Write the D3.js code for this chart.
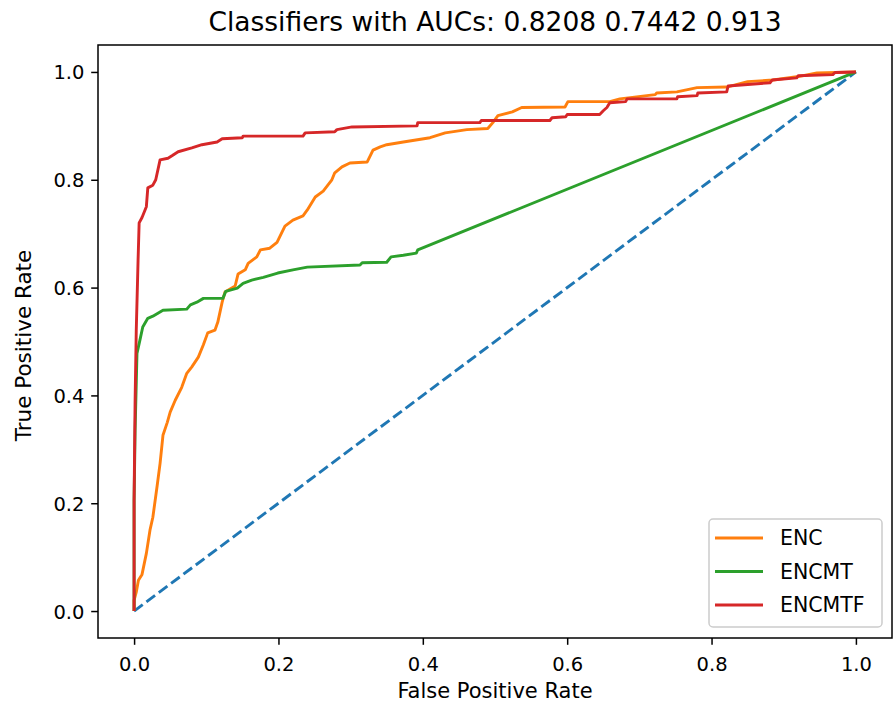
<!DOCTYPE html>
<html>
<head>
<meta charset="utf-8">
<script src="https://cdn.jsdelivr.net/npm/d3@7"></script>
<style>
  body { margin: 0; background: #fff; }
  svg text { font-family: "DejaVu Sans", sans-serif; fill: #000; }
</style>
</head>
<body>
<svg id="chart" width="893" height="704"></svg>
<script>
// datos (fpr, tpr por clasificador)
var tituloTexto = "Classifiers with AUCs: 0.8208 0.7442 0.913";
var ticks = [0.0, 0.2, 0.4, 0.6, 0.8, 1.0];
var nombres = ["ENC", "ENCMT", "ENCMTF"];
var colores = ["#ff7f0e", "#2ca02c", "#d62728"];

var encFpr = [0,0,0.003,0.006,0.011,0.017,0.022,0.026,0.032,0.036,0.040,0.046,0.050,0.057,0.066,0.073,0.080,0.089,0.096,0.102,0.112,0.116,0.122,0.126,0.140,0.144,0.154,0.158,0.170,0.175,0.188,0.198,0.209,0.220,0.234,0.240,0.251,0.262,0.274,0.278,0.288,0.299,0.323,0.331,0.341,0.350,0.373,0.410,0.431,0.461,0.490,0.497,0.504,0.524,0.537,0.597,0.601,0.659,0.673,0.722,0.724,0.752,0.780,0.821,0.850,0.885,0.918,0.946,1];
var encTpr = [0,0.02,0.035,0.057,0.068,0.107,0.150,0.174,0.233,0.274,0.326,0.350,0.369,0.391,0.415,0.441,0.453,0.471,0.494,0.516,0.521,0.536,0.573,0.592,0.603,0.625,0.633,0.645,0.657,0.670,0.673,0.684,0.714,0.725,0.733,0.744,0.768,0.779,0.800,0.813,0.824,0.831,0.833,0.855,0.861,0.865,0.870,0.878,0.887,0.893,0.895,0.906,0.919,0.926,0.934,0.935,0.945,0.945,0.950,0.958,0.961,0.963,0.971,0.972,0.982,0.985,0.991,0.998,1];

var encmtFpr = [0,0,0.0014,0.004,0.008,0.012,0.019,0.026,0.040,0.073,0.078,0.087,0.096,0.123,0.127,0.143,0.151,0.163,0.179,0.199,0.220,0.240,0.313,0.316,0.350,0.356,0.373,0.391,0.393,1];
var encmtTpr = [0,0.205,0.335,0.478,0.502,0.527,0.543,0.547,0.558,0.560,0.568,0.573,0.580,0.580,0.593,0.599,0.608,0.614,0.619,0.627,0.633,0.638,0.642,0.646,0.647,0.657,0.660,0.664,0.670,1];

var encmtfFpr = [0,0,0.0014,0.003,0.0055,0.007,0.011,0.017,0.019,0.026,0.030,0.036,0.047,0.053,0.061,0.080,0.094,0.115,0.122,0.150,0.151,0.234,0.237,0.278,0.281,0.302,0.392,0.393,0.479,0.481,0.576,0.579,0.598,0.600,0.645,0.650,0.655,0.659,0.681,0.683,0.752,0.753,0.780,0.781,0.821,0.823,0.881,0.884,0.918,0.920,0.968,0.971,1];
var encmtfTpr = [0,0.205,0.39,0.52,0.65,0.72,0.73,0.75,0.785,0.79,0.80,0.837,0.84,0.845,0.852,0.859,0.865,0.870,0.876,0.878,0.881,0.881,0.887,0.889,0.893,0.898,0.900,0.906,0.906,0.910,0.910,0.915,0.917,0.921,0.921,0.928,0.934,0.943,0.945,0.950,0.950,0.954,0.956,0.961,0.963,0.974,0.980,0.985,0.989,0.993,0.995,0.999,1];

var diagFpr = [0, 1];
var diagTpr = [0, 1];

var series = [
  {fpr: encFpr, tpr: encTpr},
  {fpr: encmtFpr, tpr: encmtTpr},
  {fpr: encmtfFpr, tpr: encmtfTpr}
];

/* area de ejes como en matplotlib, margen 0.05 */
var ax = {left: 98, right: 892, top: 45, bottom: 638};
var x = d3.scaleLinear().domain([-0.05, 1.05]).range([ax.left, ax.right]);
var y = d3.scaleLinear().domain([-0.05, 1.05]).range([ax.bottom, ax.top]);

var canvas = d3.select("#chart");

var linea = d3.line()
  .x(d => x(d[0]))
  .y(d => y(d[1]));

function puntos(fs, ts) {
  return fs.map((f, i) => [f, ts[i]]);
}

// diagonal punteada
canvas.append("path")
  .attr("d", linea(puntos(diagFpr, diagTpr)))
  .attr("fill", "none")
  .attr("stroke", "#1f77b4")
  .attr("stroke-width", 2.9)
  .attr("stroke-dasharray", "10.75,4.65");

series.forEach((s, i) => {
  canvas.append("path")
    .attr("d", linea(puntos(s.fpr, s.tpr)))
    .attr("fill", "none")
    .attr("stroke", colores[i])
    .attr("stroke-width", 2.9)
    .attr("stroke-linejoin", "round");
});

// marco
canvas.append("rect")
  .attr("x", ax.left).attr("y", ax.top)
  .attr("width", ax.right - ax.left).attr("height", ax.bottom - ax.top)
  .attr("fill", "none").attr("stroke", "#000").attr("stroke-width", 1.5);

var fmt = d3.format(".1f");

var xAx = d3.axisBottom(x).tickValues(ticks).tickFormat(fmt).tickSizeOuter(0).tickSize(6.8).tickPadding(6.8);
var gx = canvas.append("g").attr("transform", "translate(0," + ax.bottom + ")").call(xAx);
var yAx = d3.axisLeft(y).tickValues(ticks).tickFormat(fmt).tickSizeOuter(0).tickSize(6.8).tickPadding(6.8);
var gy = canvas.append("g").attr("transform", "translate(" + ax.left + ",0)").call(yAx);

[gx, gy].forEach(g => {
  g.select(".domain").remove();
  g.selectAll(".tick line").attr("stroke", "#000").attr("stroke-width", 1.5);
  g.selectAll(".tick text")
    .attr("font-size", "19.5px")
    .attr("font-family", "DejaVu Sans")
    .attr("fill", "#000");
});
gx.selectAll(".tick text").attr("dy", null).attr("y", 33);
gy.selectAll(".tick text").attr("dy", "0.36em");

// titulo y etiquetas
canvas.append("text")
  .attr("x", (ax.left + ax.right) / 2).attr("y", 31)
  .attr("text-anchor", "middle").attr("font-size", "26.5px")
  .text(tituloTexto);

canvas.append("text")
  .attr("x", (ax.left + ax.right) / 2).attr("y", 698)
  .attr("text-anchor", "middle").attr("font-size", "21px")
  .text("False Positive Rate");

canvas.append("text")
  .attr("transform", "translate(31," + ((ax.top + ax.bottom) / 2 + 4) + ") rotate(-90)")
  .attr("text-anchor", "middle").attr("font-size", "21.5px")
  .text("True Positive Rate");

// leyenda
var ley = canvas.append("g");
ley.append("rect")
  .attr("x", 709).attr("y", 519).attr("width", 173).attr("height", 108)
  .attr("rx", 4).attr("ry", 4)
  .attr("fill", "#fff").attr("fill-opacity", 0.8)
  .attr("stroke", "#cccccc").attr("stroke-width", 1.5);

nombres.forEach((n, i) => {
  var cy = 538 + i * 33.5;
  ley.append("line")
    .attr("x1", 715).attr("x2", 763).attr("y1", cy).attr("y2", cy)
    .attr("stroke", colores[i]).attr("stroke-width", 2.9);
  ley.append("text")
    .attr("x", 780).attr("y", cy).attr("dy", "0.36em")
    .attr("font-size", "20.5px")
    .text(n);
});
</script>
</body>
</html>
